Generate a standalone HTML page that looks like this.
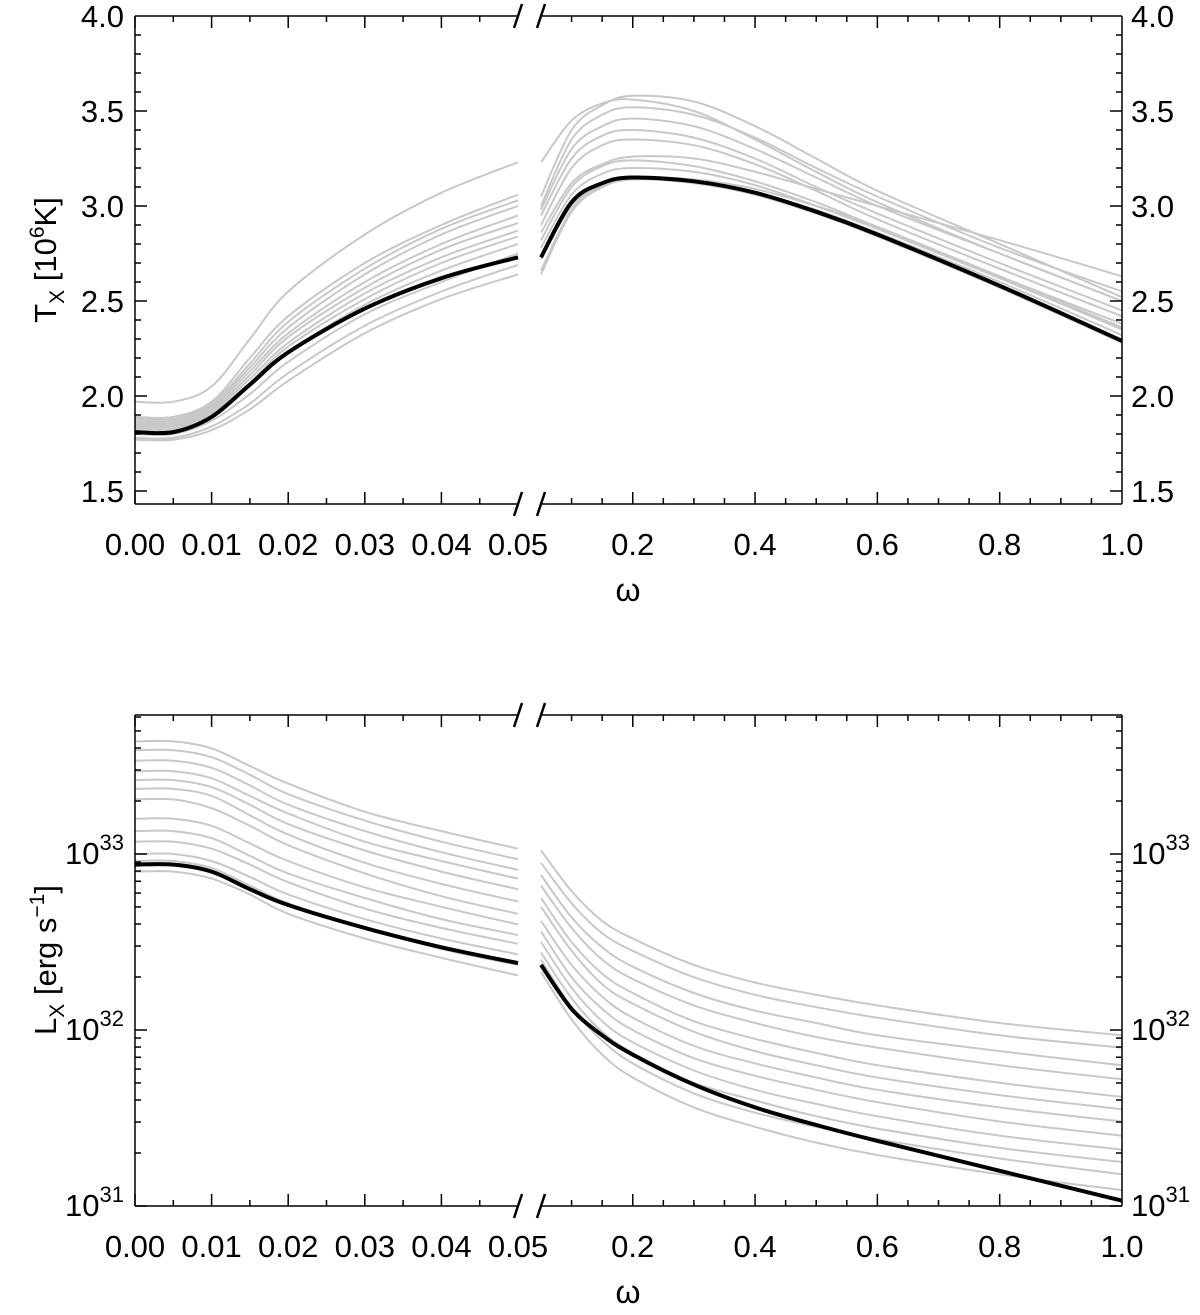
<!DOCTYPE html>
<html><head><meta charset="utf-8"><style>
body{margin:0;background:#fff;}
svg text{font-family:"Liberation Sans",sans-serif;fill:#000;}
</style></head><body>
<svg id="chart" width="1200" height="1310" viewBox="0 0 1200 1310" xmlns="http://www.w3.org/2000/svg"></svg>
<script>
// ---- data ----
const leftX = [0,0.005,0.01,0.015,0.02,0.03,0.04,0.05];
const rightX = [0.05,0.1,0.15,0.2,0.3,0.4,0.5,0.6,0.8,1.0];
const tLeftBlack = [1.81,1.81,1.89,2.06,2.23,2.46,2.62,2.73];
const tRightBlack = [2.73,3.02,3.12,3.15,3.13,3.07,2.97,2.85,2.58,2.29];
const tLeftGrey = [
[1.97,1.97,2.05,2.3,2.55,2.85,3.07,3.23],
[1.89,1.89,1.97,2.2,2.42,2.7,2.9,3.06],
[1.88,1.88,1.96,2.17,2.39,2.67,2.88,3.03],
[1.87,1.87,1.95,2.15,2.36,2.64,2.85,3.0],
[1.86,1.86,1.94,2.13,2.33,2.6,2.8,2.95],
[1.85,1.85,1.93,2.11,2.31,2.57,2.77,2.91],
[1.84,1.84,1.92,2.09,2.28,2.54,2.73,2.87],
[1.83,1.83,1.91,2.07,2.26,2.51,2.7,2.84],
[1.82,1.82,1.9,2.05,2.23,2.48,2.66,2.8],
[1.8,1.8,1.87,2.01,2.18,2.43,2.6,2.75],
[1.78,1.78,1.84,1.96,2.12,2.37,2.55,2.69],
[1.77,1.77,1.82,1.93,2.08,2.33,2.51,2.64]];
const tRightGrey = [
[3.23,3.45,3.54,3.56,3.5,3.35,3.18,3.02,2.75,2.5],
[3.05,3.4,3.53,3.58,3.55,3.42,3.25,3.08,2.8,2.52],
[3.0,3.35,3.48,3.52,3.48,3.36,3.2,3.05,2.78,2.55],
[2.98,3.3,3.42,3.46,3.42,3.3,3.15,3.0,2.75,2.5],
[2.95,3.25,3.37,3.4,3.36,3.25,3.1,2.96,2.7,2.45],
[2.9,3.2,3.32,3.35,3.32,3.22,3.08,2.93,2.67,2.42],
[2.86,3.12,3.22,3.26,3.25,3.18,3.09,3.0,2.82,2.63],
[2.82,3.1,3.21,3.24,3.21,3.13,3.02,2.89,2.63,2.36],
[2.78,3.06,3.17,3.2,3.18,3.11,3.0,2.88,2.62,2.35],
[2.72,3.0,3.11,3.15,3.14,3.09,3.0,2.89,2.63,2.38],
[2.66,2.98,3.1,3.14,3.13,3.07,2.98,2.86,2.6,2.32],
[2.64,2.97,3.1,3.14,3.12,3.06,2.96,2.84,2.57,2.28]];
const lLeftBlack = [32.94,32.94,32.9,32.8,32.71,32.58,32.47,32.38];
const lRightBlack = [32.37,32.12,31.97,31.86,31.69,31.56,31.46,31.37,31.2,31.03];
const lLeftGrey = [
[33.64,33.64,33.6,33.5,33.4,33.24,33.13,33.03],
[33.59,33.59,33.55,33.45,33.34,33.19,33.07,32.97],
[33.53,33.53,33.49,33.39,33.28,33.13,33.01,32.91],
[33.47,33.47,33.43,33.33,33.23,33.07,32.96,32.86],
[33.42,33.42,33.38,33.28,33.17,33.02,32.9,32.8],
[33.37,33.37,33.33,33.22,33.11,32.95,32.83,32.73],
[33.31,33.31,33.26,33.16,33.05,32.89,32.76,32.66],
[33.2,33.2,33.16,33.06,32.96,32.81,32.7,32.6],
[33.13,33.13,33.09,32.99,32.89,32.75,32.63,32.54],
[33.07,33.07,33.03,32.94,32.84,32.69,32.58,32.49],
[33.0,33.0,32.96,32.87,32.77,32.63,32.52,32.43],
[32.96,32.96,32.92,32.82,32.72,32.58,32.46,32.37],
[32.9,32.9,32.86,32.77,32.66,32.52,32.41,32.31]];
const lRightGrey = [
[33.02,32.79,32.62,32.52,32.37,32.27,32.2,32.14,32.04,31.97],
[32.95,32.72,32.55,32.45,32.3,32.2,32.13,32.07,31.97,31.9],
[32.88,32.64,32.47,32.36,32.21,32.11,32.04,31.97,31.88,31.8],
[32.82,32.58,32.4,32.29,32.14,32.04,31.96,31.9,31.8,31.72],
[32.75,32.5,32.32,32.21,32.05,31.95,31.87,31.8,31.7,31.62],
[32.7,32.45,32.26,32.15,31.99,31.88,31.8,31.73,31.63,31.55],
[32.62,32.37,32.19,32.07,31.91,31.81,31.73,31.66,31.56,31.48],
[32.56,32.3,32.12,32.0,31.84,31.74,31.66,31.59,31.48,31.4],
[32.5,32.24,32.05,31.93,31.77,31.66,31.58,31.51,31.4,31.32],
[32.44,32.18,31.99,31.87,31.7,31.6,31.51,31.44,31.33,31.25],
[32.4,32.13,31.94,31.81,31.64,31.53,31.45,31.38,31.27,31.18],
[32.33,32.06,31.86,31.73,31.56,31.45,31.36,31.29,31.18,31.09]];
const leftTickLabels = ["0.00","0.01","0.02","0.03","0.04","0.05"];
const rightTickLabels = ["0.2","0.4","0.6","0.8","1.0"];
const tTickLabels = ["1.5","2.0","2.5","3.0","3.5","4.0"];
const lDecades = [31,32,33];

// ---- geometry ----
const L=135, R=1122, BL=518, BR=541;
const P1={top:16,bot:504}, P2={top:715,bot:1206};
function xLeft(v){return L+v/0.05*(BL-L);}
function xRight(v){return BR+(v-0.05)/0.95*(R-BR);}
function yT(v){return 16+(4.0-v)*190;}
function yB(l){return 1206-(l-31)*176;}

const NS="http://www.w3.org/2000/svg";
const svg=document.getElementById('chart');
function mk(tag,attrs,parent){const e=document.createElementNS(NS,tag);for(const k in attrs)e.setAttribute(k,attrs[k]);(parent||svg).appendChild(e);return e;}
function line(x1,y1,x2,y2,w,g){return mk('line',{x1,y1,x2,y2,stroke:'#000','stroke-width':w||1.5},g);}
function pathFrom(xs,ys,fx,fy){
  const p=xs.map((x,i)=>[fx(x),fy(ys[i])]);
  let d='M'+p[0][0].toFixed(1)+','+p[0][1].toFixed(1);
  for(let i=0;i<p.length-1;i++){
    const p0=p[i-1]||p[i],p1=p[i],p2=p[i+1],p3=p[i+2]||p2;
    const c1=[p1[0]+(p2[0]-p0[0])/6,p1[1]+(p2[1]-p0[1])/6];
    const c2=[p2[0]-(p3[0]-p1[0])/6,p2[1]-(p3[1]-p1[1])/6];
    d+=' C'+c1[0].toFixed(1)+','+c1[1].toFixed(1)+' '+c2[0].toFixed(1)+','+c2[1].toFixed(1)+' '+p2[0].toFixed(1)+','+p2[1].toFixed(1);
  }
  return d;
}
function drawCurves(g,greyL,greyR,blackL,blackR,fy){
  greyL.forEach(s=>{const e=mk('path',{d:pathFrom(leftX,s,xLeft,fy),fill:'none',stroke:'#c8c8c8','stroke-width':2},g);
    
    });
  greyR.forEach(s=>{const e=mk('path',{d:pathFrom(rightX,s,xRight,fy),fill:'none',stroke:'#c8c8c8','stroke-width':2},g);
    
    });
  const b1=mk('path',{d:pathFrom(leftX,blackL,xLeft,fy),fill:'none',stroke:'#000','stroke-width':4},g);
  
  
  const b2=mk('path',{d:pathFrom(rightX,blackR,xRight,fy),fill:'none',stroke:'#000','stroke-width':4},g);
  
  
}
function frame(g,P){
  line(L,P.top,L,P.bot,1.5,g);line(R,P.top,R,P.bot,1.5,g);
  [P.top,P.bot].forEach(y=>{
    line(L,y,BL,y,1.5,g);line(BR,y,R,y,1.5,g);
    line(BL-4,y+12,BL+4,y-12,2.5,g);line(BR-4,y+12,BR+4,y-12,2.5,g);
  });
  for(let i=0;i<10;i++){const v=i*0.005,x=xLeft(v),len=i%2===0?12:6;
    line(x,P.bot,x,P.bot-len,1.5,g);line(x,P.top,x,P.top+len,1.5,g);}
  for(let i=2;i<20;i++){const v=i*0.05,x=xRight(v),len=i%4===0?12:6;
    line(x,P.bot,x,P.bot-len,1.5,g);line(x,P.top,x,P.top+len,1.5,g);}
  const tl=mk('g',{'font-size':31,'text-anchor':'middle'},g);
  
  
  leftTickLabels.forEach((t,i)=>{const e=mk('text',{x:xLeft(i*0.01),y:P.bot+51},tl);e.textContent=t;});
  rightTickLabels.forEach((t,i)=>{const e=mk('text',{x:xRight(0.2+i*0.2),y:P.bot+51},tl);e.textContent=t;});
  const om=mk('text',{x:628,y:P.bot+97,'font-size':32,'text-anchor':'middle','font-family':'Liberation Serif, serif'},g);
  om.textContent='ω';
  
  
}

// ---- top panel ----
const g1=mk('g',{});


drawCurves(g1,tLeftGrey,tRightGrey,tLeftBlack,tRightBlack,yT);
frame(g1,P1);
for(let i=0;i<=25;i++){const v=1.4+i*0.1;if(v<1.43)continue;const y=yT(v),len=(Math.round(v*10)%5===0)?12:6;
  line(L,y,L+len,y,1.5,g1);line(R,y,R-len,y,1.5,g1);}
tTickLabels.forEach((t,i)=>{const y=yT(1.5+i*0.5)+11;
  const a=mk('text',{x:124,y,'font-size':31,'text-anchor':'end'},g1);a.textContent=t;
  const b=mk('text',{x:1131,y,'font-size':31},g1);b.textContent=t;});
const yt1=mk('text',{transform:'translate(56,260) rotate(-90)','font-size':31,'text-anchor':'middle'},g1);
yt1.innerHTML='T<tspan font-size="21" dy="8">X</tspan><tspan dy="-8"> [10</tspan><tspan font-size="21" dy="-12">6</tspan><tspan dy="12">K]</tspan>';



// ---- bottom panel ----
const g2=mk('g',{});


drawCurves(g2,lLeftGrey,lRightGrey,lLeftBlack,lRightBlack,yB);
frame(g2,P2);
lDecades.forEach(d=>{for(let m=1;m<=9;m++){const l=d+Math.log10(m);const y=yB(l);if(y<P2.top)continue;const len=m===1?12:6;
  line(L,y,L+len,y,1.5,g2);line(R,y,R-len,y,1.5,g2);}
  const y=yB(d)+10;
  const a=mk('text',{x:124,y,'font-size':31,'text-anchor':'end'},g2);a.innerHTML='10<tspan font-size="22" dy="-14">'+d+'</tspan>';
  const b=mk('text',{x:1131,y,'font-size':31},g2);b.innerHTML='10<tspan font-size="22" dy="-14">'+d+'</tspan>';});
const yt2=mk('text',{transform:'translate(56,960) rotate(-90)','font-size':31,'text-anchor':'middle'},g2);
yt2.innerHTML='L<tspan font-size="21" dy="8">X</tspan><tspan dy="-8"> [erg s</tspan><tspan font-size="21" dy="-12">−1</tspan><tspan dy="12">]</tspan>';


</script>
</body></html>
